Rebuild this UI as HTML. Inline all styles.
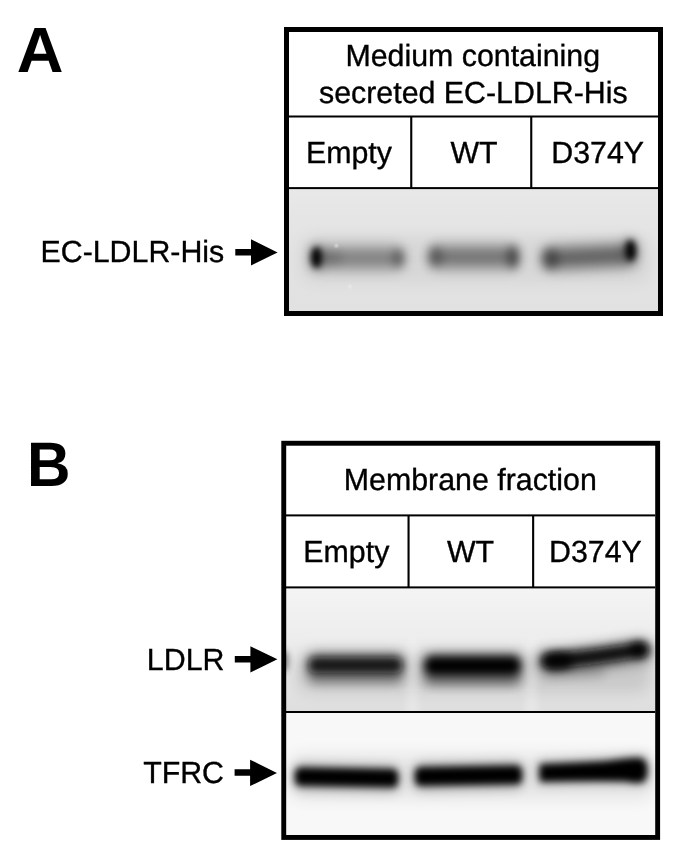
<!DOCTYPE html>
<html>
<head>
<meta charset="utf-8">
<title>Figure</title>
<style>
html,body{margin:0;padding:0;background:#fff;}
body{width:685px;height:856px;overflow:hidden;font-family:"Liberation Sans",sans-serif;}
svg{display:block;will-change:transform;filter:grayscale(1);}
text{font-family:"Liberation Sans",sans-serif;fill:#000;font-kerning:none;text-rendering:geometricPrecision;}
.t{font-weight:400;stroke:#000;stroke-width:0.35px;}
.p{font-weight:700;}
</style>
</head>
<body>
<svg width="685" height="856" viewBox="0 0 685 856">
<defs>
  <filter id="b65" filterUnits="userSpaceOnUse" x="0" y="0" width="685" height="856"><feGaussianBlur stdDeviation="6.5"/></filter>
  <filter id="b35" filterUnits="userSpaceOnUse" x="0" y="0" width="685" height="856"><feGaussianBlur stdDeviation="3.5"/></filter>
  <filter id="b1" filterUnits="userSpaceOnUse" x="0" y="0" width="685" height="856"><feGaussianBlur stdDeviation="1"/></filter>
  <filter id="b2" filterUnits="userSpaceOnUse" x="0" y="0" width="685" height="856"><feGaussianBlur stdDeviation="2"/></filter>
  <filter id="b3" filterUnits="userSpaceOnUse" x="0" y="0" width="685" height="856"><feGaussianBlur stdDeviation="3"/></filter>
  <filter id="b4" filterUnits="userSpaceOnUse" x="0" y="0" width="685" height="856"><feGaussianBlur stdDeviation="4"/></filter>
  <filter id="b5" filterUnits="userSpaceOnUse" x="0" y="0" width="685" height="856"><feGaussianBlur stdDeviation="5"/></filter>
  <filter id="b6" filterUnits="userSpaceOnUse" x="0" y="0" width="685" height="856"><feGaussianBlur stdDeviation="6"/></filter>
  <filter id="b7" filterUnits="userSpaceOnUse" x="0" y="0" width="685" height="856"><feGaussianBlur stdDeviation="7"/></filter>
  <filter id="b8" filterUnits="userSpaceOnUse" x="0" y="0" width="685" height="856"><feGaussianBlur stdDeviation="8"/></filter>
  <clipPath id="cA"><rect x="289" y="189" width="369" height="122"/></clipPath>
  <clipPath id="cL"><rect x="286" y="588.5" width="369.2" height="122.5"/></clipPath>
  <clipPath id="cT"><rect x="286" y="713" width="369.2" height="122.2"/></clipPath>
  <linearGradient id="gA" x1="0" y1="0" x2="0" y2="1">
    <stop offset="0" stop-color="#e8e8e8"/><stop offset="0.45" stop-color="#e3e3e3"/><stop offset="1" stop-color="#e1e1e1"/>
  </linearGradient>
  <linearGradient id="gL" x1="0" y1="0" x2="0" y2="1">
    <stop offset="0" stop-color="#f4f4f4"/><stop offset="0.45" stop-color="#ececec"/><stop offset="1" stop-color="#dedede"/>
  </linearGradient>
</defs>
<rect x="0" y="0" width="685" height="856" fill="#fff"/>

<!-- ================= PANEL A ================= -->

<!-- blot A -->
<rect x="289" y="189" width="369" height="122" fill="url(#gA)"/>
<g clip-path="url(#cA)">
  <!-- halo -->
  <rect x="300" y="236" width="350" height="46" rx="14" fill="#000" opacity="0.05" filter="url(#b8)"/>
  <!-- band 1 -->
  <rect x="314" y="247.5" width="88" height="21" rx="6" fill="#000" opacity="0.40" filter="url(#b7)"/>
  <rect x="318" y="251" width="24" height="13" rx="5" fill="#000" opacity="0.14" filter="url(#b5)"/>
  <ellipse cx="316.5" cy="257.4" rx="5" ry="10.5" fill="#000" filter="url(#b3)"/>
  <ellipse cx="316.5" cy="257.4" rx="5.5" ry="12" fill="#000" opacity="0.5" filter="url(#b6)"/>
  <ellipse cx="398.5" cy="258" rx="5.5" ry="9.5" fill="#000" opacity="0.42" filter="url(#b5)"/>
  <!-- band 2 -->
  <rect x="431" y="246.5" width="86" height="21" rx="6" fill="#000" opacity="0.47" filter="url(#b7)"/>
  <ellipse cx="435" cy="256.5" rx="7" ry="10.5" fill="#000" opacity="0.38" filter="url(#b5)"/>
  <ellipse cx="513" cy="257" rx="5.5" ry="11.5" fill="#000" opacity="0.55" filter="url(#b5)"/>
  <!-- band 3 -->
  <g transform="rotate(-2.5 590 256)">
    <rect x="544" y="246.3" width="90" height="21" rx="6" fill="#000" opacity="0.56" filter="url(#b7)"/>
    <ellipse cx="550" cy="257" rx="8" ry="10.5" fill="#000" opacity="0.42" filter="url(#b5)"/>
  </g>
  <ellipse cx="630.5" cy="250.5" rx="5" ry="10.5" fill="#000" filter="url(#b3)"/>
  <ellipse cx="630.5" cy="250.5" rx="5.5" ry="12" fill="#000" opacity="0.5" filter="url(#b6)"/>
  <circle cx="336.4" cy="245.7" r="1.3" fill="#fff" filter="url(#b1)"/>
  <circle cx="350" cy="286.5" r="1.1" fill="#fff" filter="url(#b1)"/>
</g>

<!-- frame A -->
<rect x="286.5" y="29.5" width="374" height="284" fill="none" stroke="#000" stroke-width="5"/>
<rect x="289" y="115.5" width="369" height="2" fill="#000"/>
<rect x="289" y="187.1" width="369" height="2" fill="#000"/>
<rect x="410.2" y="116" width="2.1" height="72" fill="#000"/>
<rect x="530.2" y="116" width="2.1" height="72" fill="#000"/>


<text class="p" font-size="64.69" transform="translate(16.69 71.50) scale(1 0.9886)">A</text>
<text class="t" font-size="30.35" transform="translate(345.41 66.00) scale(1 1.0080)">Medium containing</text>
<text class="t" font-size="30.35" transform="translate(319.05 103.00) scale(1 1.0080)">secreted EC-LDLR-His</text>
<text class="t" font-size="30.35" transform="translate(305.91 163.00) scale(1 1.0080)">Empty</text>
<text class="t" font-size="30.35" transform="translate(450.39 163.00) scale(1 1.0080)">WT</text>
<text class="t" font-size="30.35" transform="translate(551.29 163.00) scale(1 1.0080)">D374Y</text>
<text class="t" font-size="30.35" transform="translate(40.48 262.00) scale(1 1.0080)">EC-LDLR-His</text>
<path d="M235.3 249.1 H251 V239.2 L277.6 252.4 L251 265.6 V255.5 H235.3 Z" fill="#000"/>

<!-- ================= PANEL B ================= -->

<!-- blot LDLR -->
<rect x="286" y="588.5" width="369.2" height="123" fill="url(#gL)"/>
<g clip-path="url(#cL)">
  <!-- broad halo under bands -->
  <rect x="296" y="652" width="356" height="40" rx="14" fill="#000" opacity="0.12" filter="url(#b8)"/>
  <ellipse cx="284" cy="661" rx="4.5" ry="11" fill="#333" opacity="0.6" filter="url(#b3)"/>
  <!-- lane gaps -->
  <rect x="408" y="640" width="9" height="80" fill="#fff" opacity="0.35" filter="url(#b5)"/>
  <rect x="527" y="640" width="9" height="80" fill="#fff" opacity="0.35" filter="url(#b5)"/>
  <!-- lower smear -->
  <rect x="309" y="670" width="93" height="14" rx="6" fill="#000" opacity="0.16" filter="url(#b5)"/>
  <rect x="425" y="671" width="95" height="15" rx="6" fill="#000" opacity="0.22" filter="url(#b5)"/>
  <rect x="545" y="664" width="60" height="14" rx="6" fill="#000" opacity="0.12" filter="url(#b5)"/>
  <!-- band 1 -->
  <rect x="306" y="652" width="99" height="30" rx="10" fill="#000" opacity="0.32" filter="url(#b6)"/>
  <rect x="308.5" y="657" width="94" height="16" rx="7" fill="#0c0c0c" opacity="0.93" filter="url(#b4)"/>
  <!-- band 2 -->
  <rect x="422" y="652" width="101" height="32" rx="10" fill="#000" opacity="0.32" filter="url(#b6)"/>
  <rect x="424.5" y="656.2" width="96" height="19" rx="8" fill="#000" filter="url(#b4)"/>
  <!-- band 3 -->
  <path d="M549 662 C575 660.5 600 657 619 654 S636 651 641 651" fill="none" stroke="#000" stroke-width="27" stroke-linecap="round" opacity="0.32" filter="url(#b6)"/>
  <path d="M549.5 661 C575 659.2 600 656 619 653 S637 650 641.5 649.8" fill="none" stroke="#0c0c0c" stroke-width="15" stroke-linecap="round" filter="url(#b4)"/>
  <ellipse cx="558" cy="661" rx="15" ry="8" fill="#000" opacity="0.85" filter="url(#b4)"/>
  <ellipse cx="638" cy="650" rx="8" ry="7" fill="#000" opacity="0.85" filter="url(#b4)"/>
</g>

<!-- blot TFRC -->
<rect x="286" y="713" width="369.2" height="122.5" fill="#f8f8f8"/>
<g clip-path="url(#cT)">
  <rect x="288" y="754" width="366" height="46" rx="14" fill="#000" opacity="0.07" filter="url(#b8)"/>
  <g transform="rotate(1.0 346 777.5)">
    <rect x="293" y="764.5" width="107" height="27" rx="9" fill="#000" opacity="0.24" filter="url(#b6)"/>
    <rect x="295" y="768.3" width="103" height="18.2" rx="5.5" fill="#000" filter="url(#b35)"/>
  </g>
  <g transform="rotate(-1.0 468 775.5)">
    <rect x="413" y="762" width="111" height="28" rx="9" fill="#000" opacity="0.24" filter="url(#b6)"/>
    <rect x="415" y="766.3" width="107" height="18.8" rx="5.5" fill="#000" filter="url(#b35)"/>
  </g>
  <path d="M538 761 Q595 759 647 754.5 L648.5 784 Q595 783.5 538 784.5 Z" fill="#000" opacity="0.24" filter="url(#b6)"/>
  <path d="M540 764.2 Q580 763 606 761.3 Q625 758.2 640 758 Q647.5 759.5 647.5 770 Q647.5 782 640 782.8 Q632 782.8 625 781.2 Q590 780.5 540 781.8 Q538.5 773 540 764.2 Z" fill="#000" filter="url(#b35)"/>
</g>

<!-- frame B -->
<rect x="283.75" y="443.25" width="373.9" height="394.2" fill="none" stroke="#000" stroke-width="4.9"/>
<rect x="286" y="514.4" width="369.2" height="2" fill="#000"/>
<rect x="286" y="586.4" width="369.2" height="2" fill="#000"/>
<rect x="286" y="711" width="369.2" height="2" fill="#000"/>
<rect x="407.5" y="515" width="2.1" height="72" fill="#000"/>
<rect x="532.1" y="515" width="2.1" height="72" fill="#000"/>


<text class="p" font-size="60.26" transform="translate(26.92 485.70) scale(1 1.0420)">B</text>
<text class="t" font-size="30.35" transform="translate(343.78 490.00) scale(1 1.0080)">Membrane fraction</text>
<text class="t" font-size="30.35" transform="translate(303.31 562.00) scale(1 1.0080)">Empty</text>
<text class="t" font-size="30.35" transform="translate(446.89 562.00) scale(1 1.0080)">WT</text>
<text class="t" font-size="30.35" transform="translate(548.99 562.00) scale(1 1.0080)">D374Y</text>
<text class="t" font-size="30.35" transform="translate(146.86 670.00) scale(1 1.0080)">LDLR</text>
<text class="t" font-size="30.35" transform="translate(143.13 783.00) scale(1 1.0080)">TFRC</text>
<path d="M234.8 655.9 H250.4 V646.2 L277.4 659.3 L250.4 672.4 V662.5 H234.8 Z" fill="#000"/>
<path d="M234.6 769.2 H250.1 V759.7 L277 772.9 L250.1 786.1 V775.8 H234.6 Z" fill="#000"/>
</svg>
</body>
</html>
